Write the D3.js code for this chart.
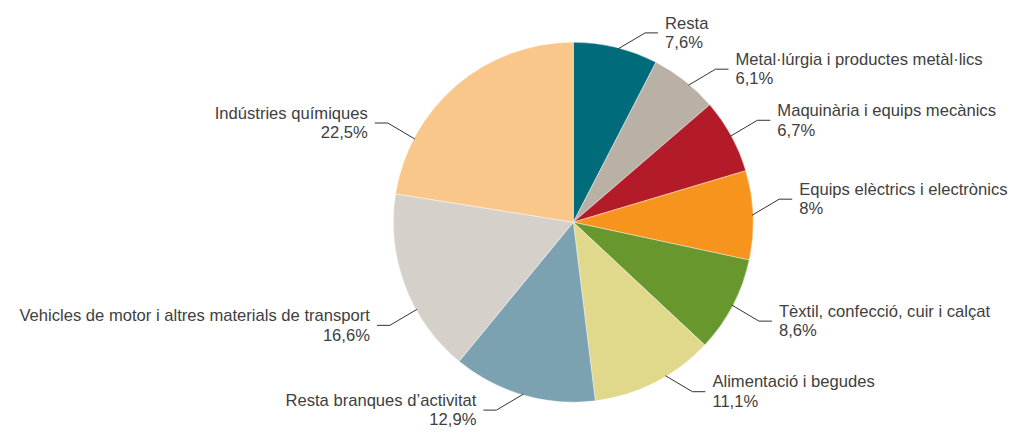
<!DOCTYPE html>
<html>
<head>
<meta charset="utf-8">
<script src="https://cdn.jsdelivr.net/npm/d3@7"></script>
<style>
  html, body { margin: 0; padding: 0; background: #fff; }
  svg { display: block; }
  text { font-family: "Liberation Sans", Arial, sans-serif; fill: #404040; }
</style>
</head>
<body>
<svg id="chart" width="1009" height="432"></svg>
<script>
const categories = [
  "Resta",
  "Metal·lúrgia i productes metàl·lics",
  "Maquinària i equips mecànics",
  "Equips elèctrics i electrònics",
  "Tèxtil, confecció, cuir i calçat",
  "Alimentació i begudes",
  "Resta branques d’activitat",
  "Vehicles de motor i altres materials de transport",
  "Indústries químiques"
];
const values = [7.6, 6.1, 6.7, 8, 8.6, 11.1, 12.9, 16.6, 22.5];
const valueLabels = ["7,6%", "6,1%", "6,7%", "8%", "8,6%", "11,1%", "12,9%", "16,6%", "22,5%"];
const colors = ["#006b7b", "#b9b1a6", "#b31b29", "#f7941e", "#68972d", "#e0d98b", "#7ca2b2", "#d5d0ca", "#fac78b"];

// layout: where along each slice (0..1) the leader line is anchored
const leaderAnchor = [0.53, 0.58, 0.5, 0.5, 0.5, 0.40, 0.5, 0.36, 0.23];

const svg = d3.select("#chart");
const cx = 573.3, cy = 222.2, R = 180;
const g = svg.append("g").attr("transform", `translate(${cx},${cy})`);

const data = categories.map((c, i) => ({ name: c, value: values[i], label: valueLabels[i], color: colors[i], anchor: leaderAnchor[i] }));

const pie = d3.pie().sort(null).value(d => d.value);
const arcs = pie(data);
const arc = d3.arc().innerRadius(0).outerRadius(R);

g.selectAll("path.slice")
  .data(arcs)
  .join("path")
  .attr("class", "slice")
  .attr("d", arc)
  .attr("fill", d => d.data.color)
  .attr("stroke", "#ffffff")
  .attr("stroke-width", 0.4);

const dx = 27, dy = 16, hLen = 13, gap = 7, lineH = 19.5;

arcs.forEach(a => {
  const ang = a.startAngle + (a.endAngle - a.startAngle) * a.data.anchor;
  const ex = Math.sin(ang) * (R - 1);
  const ey = -Math.cos(ang) * (R - 1);
  const sx = Math.sin(ang) >= 0 ? 1 : -1;
  const sy = -Math.cos(ang) >= 0 ? 1 : -1;
  const bx = ex + sx * dx, by = ey + sy * dy;
  const hx = bx + sx * hLen;
  g.append("polyline")
    .attr("points", `${ex},${ey} ${bx},${by} ${hx},${by}`)
    .attr("fill", "none")
    .attr("stroke", "#333")
    .attr("stroke-width", 1);
  const t = g.append("text")
    .attr("x", hx + sx * gap)
    .attr("y", by)
    .attr("text-anchor", sx > 0 ? "start" : "end")
    .style("font-size", "16.6px");
  t.append("tspan").attr("x", hx + sx * gap).attr("dy", -lineH / 2 + 5.5).text(a.data.name);
  t.append("tspan").attr("x", hx + sx * gap).attr("dy", lineH).text(a.data.label);
});
</script>
</body>
</html>
